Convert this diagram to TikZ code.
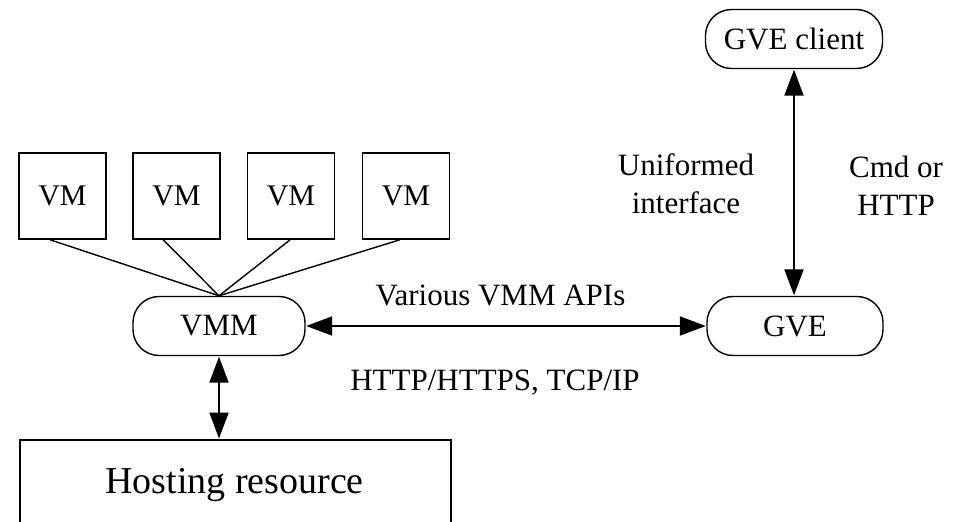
\documentclass[tikz,border=0pt]{standalone}
\usepackage{fontspec}
\setmainfont{Liberation Serif}
\usetikzlibrary{arrows.meta,calc}
\begin{document}
\begin{tikzpicture}[x=1pt,y=-1pt,
  vmbox/.style={draw, line width=1.6pt, minimum width=87pt, minimum height=86pt, inner sep=0pt, font=\fontsize{30}{34}\selectfont},
  pill/.style={draw, line width=1.4pt, rounded corners=26pt, minimum height=59pt, inner sep=0pt, font=\fontsize{31}{34}\selectfont},
  lbl/.style={font=\fontsize{31}{38}\selectfont, align=center, inner sep=0pt, anchor=base},
  link/.style={line width=1.4pt},
  biarrow/.style={line width=2pt, {Triangle[length=26pt,width=19pt]}-{Triangle[length=26pt,width=19pt]}, shorten <=0.5pt, shorten >=0.5pt}
]
\useasboundingbox (0,0) rectangle (959,522);
\clip (0,0) rectangle (959,522);
\fill[white] (0,0) rectangle (959,522);

\node[vmbox] (vm1) at (62.5,196) {VM};
\node[vmbox] (vm2) at (176.5,196) {VM};
\node[vmbox] (vm3) at (291,196) {VM};
\node[vmbox] (vm4) at (406,196) {VM};

\node[pill, minimum width=172pt] (vmm) at (219,326) {VMM};
\node[pill, minimum width=176pt] (gve) at (795,326) {GVE};
\node[pill, minimum width=177pt] (client) at (794,39) {GVE client};

\node[draw, line width=1.6pt, minimum width=431pt, minimum height=160pt, inner sep=0pt, anchor=north west] (host) at (19,439) {};
\node[lbl, font=\fontsize{38}{44}\selectfont] (hosttext) at (234.5,493) {Hosting resource};

\coordinate (vmmtop) at (vmm.north);
\draw[link] ($(vm1.south west)!0.36!(vm1.south east)$) -- (vmmtop);
\draw[link] ($(vm2.south west)!0.35!(vm2.south east)$) -- (vmmtop);
\draw[link] ($(vm3.south west)!0.49!(vm3.south east)$) -- (vmmtop);
\draw[link] ($(vm4.south west)!0.43!(vm4.south east)$) -- (vmmtop);

\draw[biarrow] (vmm.east) -- (gve.west);
\draw[biarrow] (vmm.south) -- (vmm.south |- host.north);
\draw[biarrow] (client.south) -- (client.south |- gve.north);

\node[lbl] (apis) at (500.5,305) {Various VMM APIs};
\node[lbl] (proto) at (495,390) {HTTP/HTTPS, TCP/IP};
\node[lbl] (unif) at (686,213) {Uniformed\\interface};
\node[lbl] (cmd) at (896,215) {Cmd or\\HTTP};
\end{tikzpicture}
\end{document}
